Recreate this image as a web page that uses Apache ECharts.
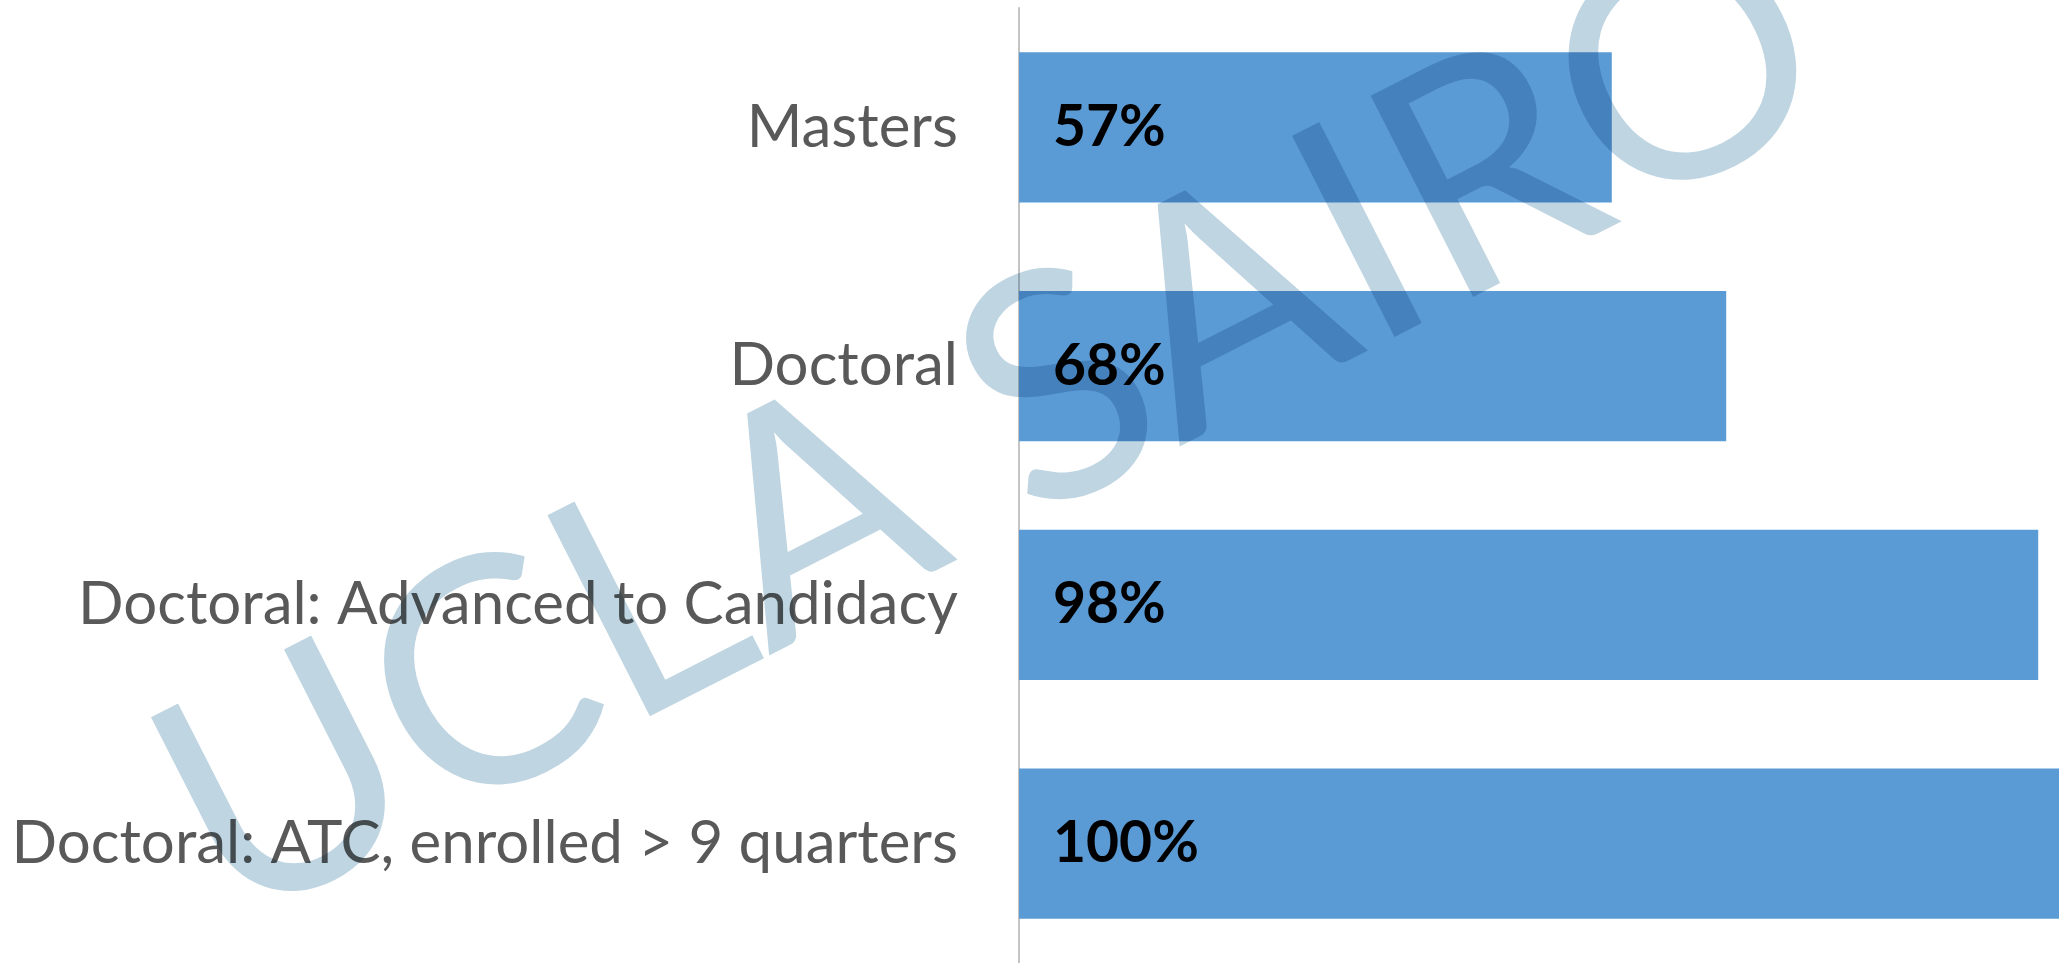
<!DOCTYPE html>
<html lang="en">
<head>
  <meta charset="UTF-8">
  <title>Bar chart</title>
  <style>
    * { margin: 0; padding: 0; }
    body { background: #ffffff; }
    #chart { width: 2059px; height: 963px; }
  </style>
</head>
<body>
  <div id="chart"></div>

  <script src="https://cdn.jsdelivr.net/npm/echarts@6/dist/echarts.min.js"></script>
  <script type="text/javascript">
  var categories = ['Masters', 'Doctoral', 'Doctoral: Advanced to Candidacy', 'Doctoral: ATC, enrolled > 9 quarters'];
  var percents = [57, 68, 98, 100];
  var watermark = 'UCLA SAIRO';

  function main () {
    var chart = echarts.init(document.getElementById('chart'));
    var option = {
      animation: false,
      // bars run a little past the right edge, like the original
      grid: { left: 1019, right: -10, top: 8, height: 956 },
      xAxis: {
        type: 'value',
        min: 0,
        max: 100,
        show: false
      },
      yAxis: {
        type: 'category',
        inverse: true,
        data: categories,
        axisTick: { show: false },
        axisLine: { show: true, lineStyle: { color: '#c4c4c4', width: 2 } },
        axisLabel: {
          margin: 61,
          fontFamily: 'Lato',
          fontSize: 60,
          color: '#595959'
        }
      },
      series: [{
        type: 'bar',
        data: percents,
        barCategoryGap: '37%',
        itemStyle: { color: '#5b9bd5' },
        label: {
          show: true,
          position: 'insideLeft',
          distance: 34,
          fontFamily: 'Lato',
          fontWeight: 'bold',
          fontSize: 57,
          color: '#000000',
          formatter: '{c}%'
        }
      }],
      // watermark drawn over the bars
      graphic: [{
        type: 'text',
        id: 'wm',
        z: 100,
        x: 992,
        y: 428,
        rotation: 27 * Math.PI / 180,
        style: {
          text: watermark,
          font: '315px Lato',
          fill: '#bfd5e2',
          align: 'center',
          verticalAlign: 'middle'
        }
      }]
    };
    chart.setOption(option);

    // multiply the watermark onto what is under it
    var zr = chart.getZr();
    zr.storage.getDisplayList(true).forEach(function (el) {
      if (el.style && el.style.text === watermark) {
        el.style.blend = 'multiply';
        el.markRedraw();
      }
    });
    zr.refreshImmediately();
  }

  window.addEventListener('load', main);
  </script>
</body>
</html>
